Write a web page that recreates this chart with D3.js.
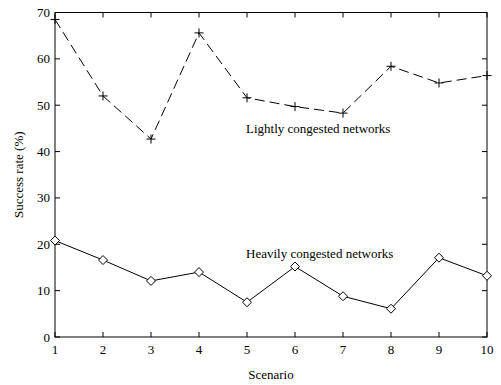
<!DOCTYPE html>
<meta charset="utf-8">
<style>
  body { margin: 0; background: #fff; }
  text { font-family: "Liberation Serif", "Times New Roman", serif; fill: #000; }
</style>
<svg width="501" height="385"></svg>
<script src="https://d3js.org/d3.v7.min.js"></script>
<script>
// scenarios 1..10
var scenarios = [1, 2, 3, 4, 5, 6, 7, 8, 9, 10]
// success rate (%) per scenario
var lightly = [68.5, 52.0, 42.7, 65.6, 51.6, 49.7, 48.3, 58.4, 54.8, 56.4]
var heavily = [20.8, 16.6, 12.1, 14.0, 7.5, 15.2, 8.8, 6.1, 17.1, 13.2]
var yTicks = [0, 10, 20, 30, 40, 50, 60, 70]

var svg = d3.select('svg')
// note: "top" is taken by window.top, so use plot* names
var plotL = 55, plotR = 487, plotT = 12.5, plotB = 337

var x = d3.scaleLinear().domain([1, 10]).range([plotL, plotR])
var y = d3.scaleLinear().domain([0, 70]).range([plotB, plotT])

// frame
svg.append('rect')
  .attr('x', plotL).attr('y', plotT)
  .attr('width', plotR - plotL).attr('height', plotB - plotT)
  .attr('fill', 'none').attr('stroke', '#000').attr('stroke-width', 1)

// inward ticks on all four sides (matlab style)
var tl = 5
var g = svg.append('g').attr('stroke', '#000').attr('stroke-width', 1)
scenarios.forEach(function (s) {
  g.append('line').attr('x1', x(s)).attr('x2', x(s)).attr('y1', plotB).attr('y2', plotB - tl)
  g.append('line').attr('x1', x(s)).attr('x2', x(s)).attr('y1', plotT).attr('y2', plotT + tl)
})
yTicks.forEach(function (t) {
  g.append('line').attr('y1', y(t)).attr('y2', y(t)).attr('x1', plotL).attr('x2', plotL + tl)
  g.append('line').attr('y1', y(t)).attr('y2', y(t)).attr('x1', plotR).attr('x2', plotR - tl)
})

svg.append('g').selectAll('text').data(scenarios).enter().append('text')
  .attr('x', function (d) { return x(d) })
  .attr('y', plotB + 17)
  .attr('text-anchor', 'middle')
  .attr('font-size', 13)
  .text(function (d) { return d })

svg.append('g').selectAll('text').data(yTicks).enter().append('text')
  .attr('x', plotL - 5)
  .attr('y', function (d) { return y(d) + 4.5 })
  .attr('text-anchor', 'end')
  .attr('font-size', 13)
  .text(function (d) { return d })

svg.append('text')
  .attr('x', (plotL + plotR) / 2).attr('y', 379)
  .attr('text-anchor', 'middle').attr('font-size', 13)
  .text('Scenario')

svg.append('text')
  .attr('transform', 'translate(23,' + ((plotT + plotB) / 2) + ') rotate(-90)')
  .attr('text-anchor', 'middle').attr('font-size', 13)
  .text('Success rate (%)')

var line = d3.line()
  .x(function (d, i) { return x(scenarios[i]) })
  .y(function (d) { return y(d) })

svg.append('path').datum(lightly)
  .attr('d', line).attr('fill', 'none')
  .attr('stroke', '#000').attr('stroke-width', 1)
  .attr('stroke-dasharray', '10,5')

svg.append('path').datum(heavily)
  .attr('d', line).attr('fill', 'none')
  .attr('stroke', '#000').attr('stroke-width', 1)

// plus markers
var m = 4.5
svg.append('g').selectAll('path').data(lightly).enter().append('path')
  .attr('d', function (d, i) {
    var cx = x(scenarios[i]), cy = y(d)
    return 'M' + (cx - m) + ',' + cy + 'H' + (cx + m) + 'M' + cx + ',' + (cy - m) + 'V' + (cy + m)
  })
  .attr('stroke', '#000').attr('stroke-width', 1).attr('fill', 'none')

// diamond markers
var dm = 4.5
svg.append('g').selectAll('path').data(heavily).enter().append('path')
  .attr('d', function (d, i) {
    var cx = x(scenarios[i]), cy = y(d)
    return 'M' + cx + ',' + (cy - dm) + 'L' + (cx + dm) + ',' + cy + 'L' + cx + ',' + (cy + dm) + 'L' + (cx - dm) + ',' + cy + 'Z'
  })
  .attr('stroke', '#000').attr('stroke-width', 1).attr('fill', '#fff')

svg.append('text').attr('x', 246).attr('y', 133).attr('font-size', 13)
  .text('Lightly congested networks')
svg.append('text').attr('x', 246).attr('y', 258).attr('font-size', 13)
  .text('Heavily congested networks')
</script>
